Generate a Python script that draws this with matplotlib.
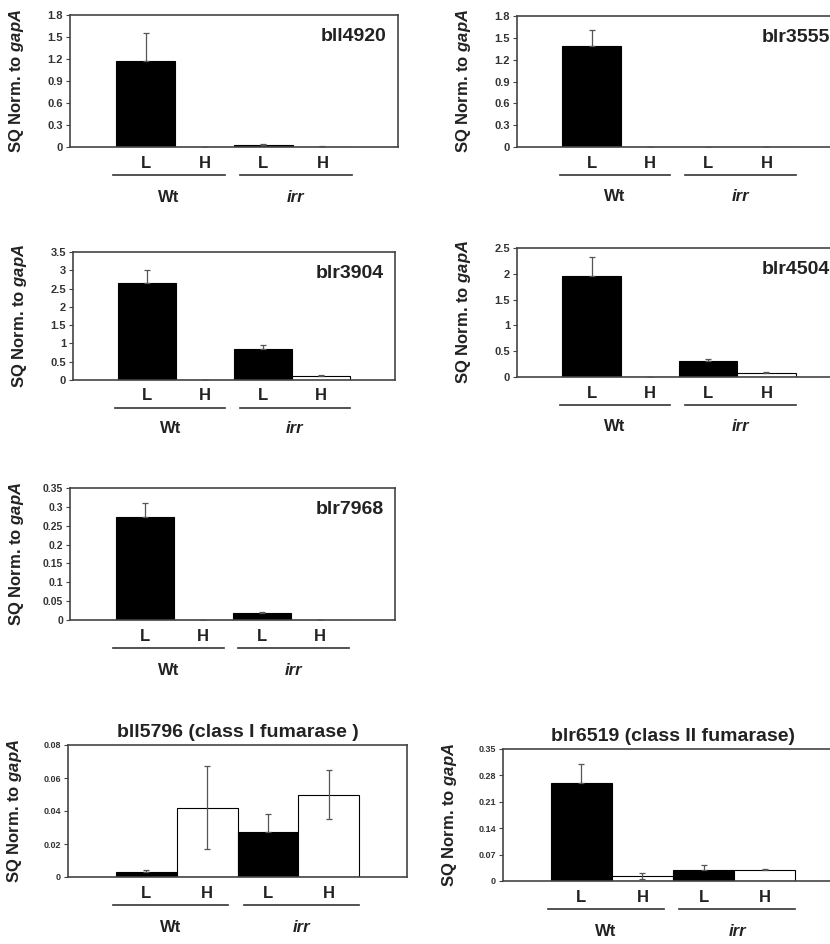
import matplotlib
matplotlib.use("Agg")
import matplotlib.pyplot as plt
import matplotlib.transforms as mtransforms

plt.rcParams['font.family'] = ['Liberation Sans', 'DejaVu Sans']
plt.rcParams['font.weight'] = 'bold'
plt.rcParams['mathtext.fontset'] = 'custom'
plt.rcParams['mathtext.bfit'] = 'Liberation Sans:bold:italic'
plt.rcParams['mathtext.it'] = 'Liberation Sans:italic'
plt.rcParams['mathtext.rm'] = 'Liberation Sans'

# bar order: Wt L, Wt H, irr L, irr H
conditions = ["L", "H", "L", "H"]
strains = ["Wt", "irr"]
bar_colors = ["black", "white", "black", "white"]

bll4920 = [1.17, 0.003, 0.03, 0.005]
bll4920_err = [0.38, 0.0, 0.008, 0.005]
blr3555 = [1.39, 0.002, 0.002, 0.002]
blr3555_err = [0.22, 0.0, 0.0, 0.0]
blr3904 = [2.66, 0.01, 0.84, 0.12]
blr3904_err = [0.34, 0.0, 0.13, 0.01]
blr4504 = [1.95, 0.005, 0.31, 0.08]
blr4504_err = [0.37, 0.0, 0.03, 0.01]
blr7968 = [0.272, 0.0005, 0.018, 0.001]
blr7968_err = [0.038, 0.0, 0.004, 0.0]
bll5796 = [0.003, 0.042, 0.027, 0.050]
bll5796_err = [0.001, 0.025, 0.011, 0.015]
blr6519 = [0.26, 0.013, 0.029, 0.030]
blr6519_err = [0.05, 0.007, 0.013, 0.002]

# name, values, errors, ymax, tick step, title?, box in pixels (left, top, width, height), tick size
panels = [
    ("bll4920", bll4920, bll4920_err, 1.8, 0.3, False, (70, 15, 328, 132), 8),
    ("blr3555", blr3555, blr3555_err, 1.8, 0.3, False, (517, 16, 324, 131), 8),
    ("blr3904", blr3904, blr3904_err, 3.5, 0.5, False, (73, 252, 322, 128), 8),
    ("blr4504", blr4504, blr4504_err, 2.5, 0.5, False, (517, 248, 324, 129), 8),
    ("blr7968", blr7968, blr7968_err, 0.35, 0.05, False, (70, 488, 325, 132), 7.5),
    ("bll5796 (class I fumarase )", bll5796, bll5796_err, 0.08, 0.02, True, (68, 745, 339, 132), 6.5),
    ("blr6519 (class II fumarase)", blr6519, blr6519_err, 0.35, 0.07, True, (503, 749, 340, 132), 6.5),
]

W, H = 830, 944
fig = plt.figure(figsize=(W / 100, H / 100), dpi=100)
fig.patch.set_facecolor("white")

def fmt(v):
    s = ("%.2f" % v).rstrip("0").rstrip(".")
    return s

for name, vals, errs, ymax, step, is_title, box, tsize in panels:
    l, t, w, h = box
    ax = fig.add_axes([l / W, 1 - (t + h) / H, w / W, h / H])
    x = range(4)
    ax.bar(x, vals, width=1.0, color=bar_colors, edgecolor="black", linewidth=0.8, zorder=2)
    # lower half of the error bar is hidden inside the black bars
    lower = [0 if c == "black" else e for c, e in zip(bar_colors, errs)]
    ax.errorbar(x, vals, yerr=[lower, errs], fmt="none", ecolor="#555555", elinewidth=0.9,
                capsize=2.5, capthick=0.9, zorder=3)
    ax.set_xlim(-1.28, 4.28)
    ax.set_ylim(0, ymax)
    n = int(round(ymax / step))
    ticks = [i * step for i in range(n + 1)]
    ax.set_yticks(ticks)
    ax.set_yticklabels([fmt(v) for v in ticks], fontsize=tsize, fontweight="bold", color="#333333")
    ax.set_xticks([])
    ax.tick_params(axis="y", direction="out", length=3, width=0.8, color="#444444", pad=2)
    for sp in ax.spines.values():
        sp.set_color("#444444")
        sp.set_linewidth(1.2)
    ax.yaxis.set_label_coords(-44 / w, 0.5)
    ax.set_ylabel(r"SQ Norm. to $\mathbfit{gapA}$", fontsize=12, fontweight="bold", color="#222222")
    if is_title:
        ax.set_title(name, fontsize=14, fontweight="bold", color="#222222", pad=6)
    else:
        ax.text(0.965, 0.90, name, transform=ax.transAxes, ha="right", va="top",
                fontsize=14, fontweight="bold", color="#222222")

    trans = mtransforms.blended_transform_factory(ax.transData, ax.transAxes)
    for i, c in enumerate(conditions):
        ax.text(i, -0.125, c, transform=trans, ha="center", va="center",
                fontsize=12, fontweight="bold", color="#222222", clip_on=False)
    for (x0, x1), s in zip([(-0.55, 1.35), (1.6, 3.5)], strains):
        ax.plot([x0, x1], [-0.215, -0.215], transform=trans, color="#333333",
                linewidth=1.2, clip_on=False)
        ax.text((x0 + x1) / 2, -0.38, s, transform=trans, ha="center", va="center",
                fontsize=12, fontweight="bold", color="#222222", clip_on=False,
                style="italic" if s == "irr" else "normal")

fig.savefig("out.png", dpi=100, facecolor="white")
